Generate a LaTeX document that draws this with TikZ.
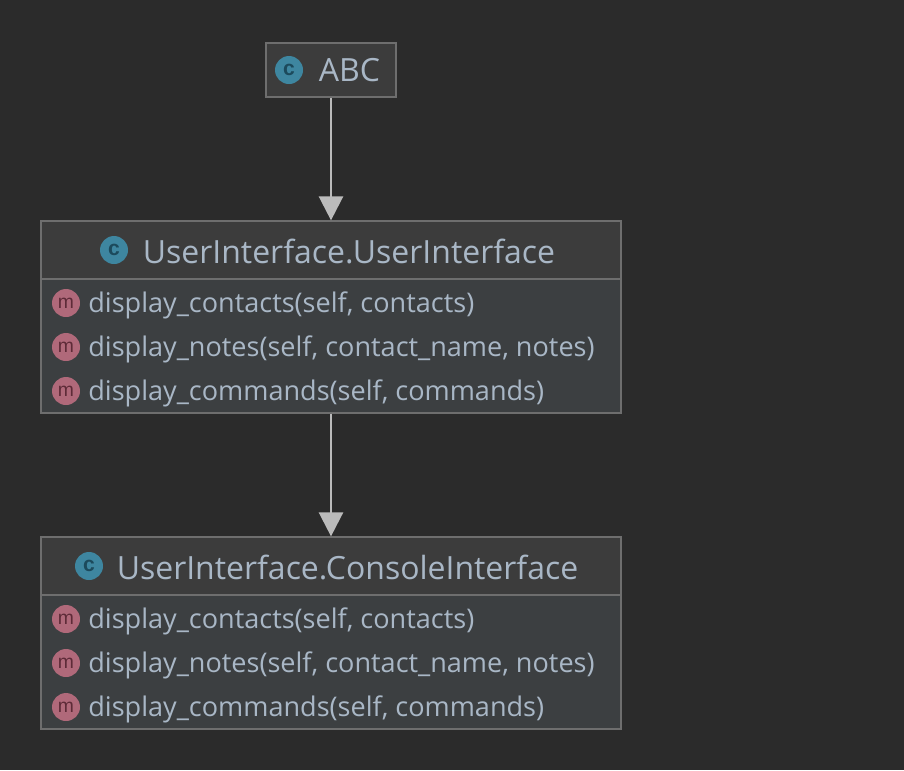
\documentclass[tikz,border=0pt]{standalone}
\usepackage{fontspec}
\setmainfont{Open Sans}
\newfontfamily\badgefont{Liberation Sans}
\usetikzlibrary{arrows.meta}
\definecolor{canvasbg}{HTML}{2B2B2B}
\definecolor{headbg}{HTML}{3C3C3C}
\definecolor{bodybg}{HTML}{3C3F41}
\definecolor{boxline}{HTML}{6E6E6E}
\definecolor{arrowline}{HTML}{BBBBBB}
\definecolor{labeltext}{HTML}{A9B7C6}
\definecolor{classicon}{HTML}{3E86A0}
\definecolor{classmark}{HTML}{1C4A5C}
\definecolor{methodicon}{HTML}{B0697A}
\definecolor{methodmark}{HTML}{5E2B38}
\tikzset{
	headbox/.style={draw=boxline,fill=headbg,line width=0.025cm,minimum height=1.16cm,inner sep=0pt},
	bodybox/.style={draw=boxline,fill=bodybg,line width=0.025cm,minimum width=11.6cm,minimum height=2.68cm,inner sep=0pt},
	classbadge/.style={circle,fill=classicon,text=classmark,minimum size=0.56cm,inner sep=0pt,font=\badgefont\bfseries\fontsize{12}{12}\selectfont},
	methodbadge/.style={circle,fill=methodicon,text=methodmark,minimum size=0.56cm,inner sep=0pt,font=\badgefont\fontsize{11}{11}\selectfont},
	titletext/.style={text=labeltext,inner sep=0pt,font=\fontsize{18.2}{20}\selectfont},
	membertext/.style={text=labeltext,inner sep=0pt,anchor=west,font=\fontsize{15.4}{16}\selectfont},
	inherit/.style={draw=arrowline,line width=0.05cm,-{Triangle[length=0.48cm,width=0.48cm,fill=arrowline]}}
}
\begin{document}
\begin{tikzpicture}
	\fill[canvasbg] (0,0) rectangle (18.08,-15.4);
	\useasboundingbox (0,0) rectangle (18.08,-15.4);

	% ABC
	\node[headbox,minimum width=2.6cm,minimum height=1.08cm] (abc) at (6.62,-1.4) {};
	\node[classbadge] (abcicon) at (5.78,-1.4) {c};
	\node[titletext] (abctitle) at (6.99,-1.4) {ABC};

	% UserInterface
	\node[headbox,minimum width=11.6cm] (ui) at (6.62,-5) {};
	\node[bodybox] (uibody) at (6.62,-6.92) {};
	\node[classbadge] (uiicon) at (2.28,-5) {c};
	\node[titletext] (uititle) at (6.98,-5.02) {UserInterface.UserInterface};

	% ConsoleInterface
	\node[headbox,minimum width=11.6cm] (console) at (6.62,-11.32) {};
	\node[bodybox] (consolebody) at (6.62,-13.24) {};
	\node[classbadge] (consoleicon) at (1.78,-11.32) {c};
	\node[titletext] (consoletitle) at (6.95,-11.34) {UserInterface.ConsoleInterface};

	% Methoden
	\foreach \name/\y in {ui/6.06,console/12.38}{
		\foreach \row/\member in {0/{display\_contacts(self, contacts)},1/{display\_notes(self, contact\_name, notes)},2/{display\_commands(self, commands)}}{
			\node[methodbadge] (\name icon\row) at (1.32,-\y-0.88*\row) {m};
			\node[membertext] (\name member\row) at (1.76,-\y-0.05-0.88*\row) {\member};
		}
	}

	% Vererbung
	\draw[inherit] (abc) -- (ui);
	\draw[inherit] (uibody) -- (console);
\end{tikzpicture}
\end{document}
